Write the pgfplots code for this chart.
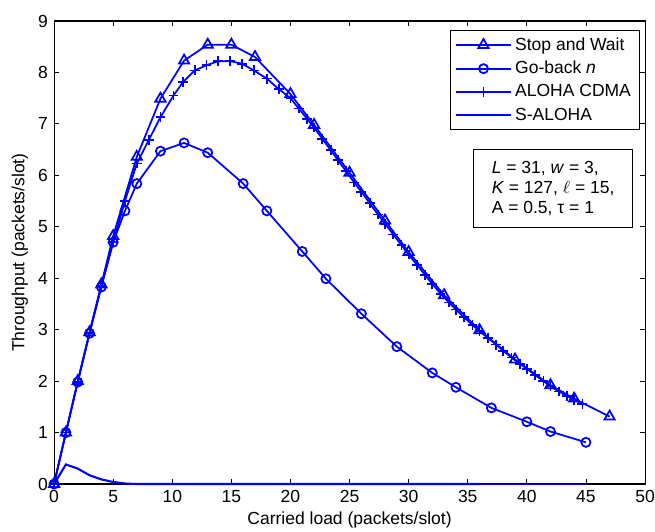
\documentclass[border=0pt]{standalone}
\usepackage{pgfplots}
\pgfplotsset{compat=1.18}
\usepackage{fontspec}
\setmainfont{Liberation Sans}

\begin{document}
\begin{tikzpicture}
\begin{axis}[
    width=337.7pt, height=264.6pt, scale only axis,
    xmin=0, xmax=50, ymin=0, ymax=9,
    xtick={0,5,...,50}, ytick={0,1,...,9},
    tick align=inside, major tick length=3pt,
    font=\fontsize{10}{12}\selectfont,
    /pgf/number format/assume math mode=true,
    axis line style={black, line width=0.6pt},
    tick style={black, line width=0.5pt},
    clip=false,
    xlabel={Carried load (packets/slot)},
    ylabel={Throughput (packets/slot)},
    xlabel style={at={(axis description cs:0.5,-0.078)}, anchor=center},
    ylabel style={at={(axis description cs:-0.058,0.5)}, anchor=center},
    legend cell align=left,
    legend style={at={(rel axis cs:0.9915,0.9806)}, anchor=north east,
        draw=black, font=\fontsize{10}{12}\selectfont,
        row sep=0.8pt, inner xsep=3pt, inner ysep=2pt},
    legend image code/.code={
        \draw[mark repeat=2,mark phase=2] plot coordinates {(0pt,0pt) (15.5pt,0pt) (31pt,0pt)};},
]
% parameter box
\node[draw=black, line width=0.5pt, anchor=north west, align=left,
      inner xsep=3pt, inner ysep=2pt, font=\fontsize{10}{11.4}\selectfont,
      minimum width=91pt, minimum height=44.6pt]
    at (rel axis cs:0.709,0.7235)
    {\textit{L} = 31, \textit{w} = 3,\\ \textit{K} = 127, $\ell$ = 15,\\ A = 0.5, τ = 1};
\coordinate (bl) at (rel axis cs:0,0);
\coordinate (tr) at (rel axis cs:1,1);

% Stop and Wait
\addplot[blue, line width=1pt, mark=triangle, mark size=3.4pt, mark options={solid}] coordinates {
    (0,0) (1,1.0) (2,2.0) (3,2.95) (4,3.88) (5,4.82) (7,6.36) (9,7.49)
    (11,8.23) (13,8.54) (15,8.54) (17,8.30) (20,7.58) (22,6.98) (25,6.05)
    (28,5.12) (30,4.51) (33,3.67) (36,2.99) (39,2.42) (42,1.92) (44,1.66) (47,1.31)
};
\addlegendentry{Stop and Wait}
% Go-back n
\addplot[blue, line width=1pt, mark=o, mark size=2.6pt, mark options={solid}] coordinates {
    (0,0) (1,1.0) (2,1.98) (3,2.93) (4,3.83) (5,4.7) (6,5.31) (7,5.84)
    (9,6.47) (11,6.63) (13,6.44) (16,5.84) (18,5.31) (21,4.52) (23,3.99)
    (26,3.31) (29,2.67) (32,2.16) (34,1.88) (37,1.48) (40,1.21) (42,1.02) (45,0.81)
};
\addlegendentry{Go-back \textit{n}}
% ALOHA CDMA
\addplot[blue, line width=1pt, mark=+, mark size=2.8pt, mark options={solid}] coordinates {
    (0,0) (1,1.0) (2,1.98) (3,2.93) (4,3.85) (5,4.7) (6,5.5) (7,6.23)
    (8,6.68) (9,7.13) (10.1,7.55) (10.9,7.81) (11.9,8.04) (12.9,8.14)
    (13.9,8.22) (14.9,8.22) (15.9,8.17) (16.9,8.04) (18,7.88) (19,7.68)
    (20,7.50) (20.7,7.30) (21.4,7.10) (22,6.93) (22.7,6.71) (23.4,6.49)
    (24,6.30) (24.7,6.08) (25.4,5.86) (26,5.68) (26.7,5.46) (27.4,5.24)
    (28,5.06) (28.7,4.85) (29.4,4.64) (30,4.46) (30.7,4.26) (31.4,4.06)
    (32,3.89) (32.7,3.70) (33.4,3.53) (34,3.39) (34.7,3.24) (35.4,3.09)
    (36,2.97) (36.7,2.84) (37.4,2.71) (38,2.59) (38.7,2.46) (39.4,2.34)
    (40,2.24) (40.7,2.12) (41.4,2.00) (42,1.90) (42.7,1.80) (43.4,1.71)
    (44,1.64) (44.7,1.56)
};
\addlegendentry{ALOHA CDMA}
% S-ALOHA
\addplot[draw=blue, line width=1.2pt, mark=none] coordinates {
    (0,0) (1,0.38) (2,0.30) (3,0.17) (4,0.09) (5,0.04) (6,0.01) (7,0) (36,0)
};
\addlegendentry{S-ALOHA}
\addplot[draw=blue, line width=0.5pt, forget plot] coordinates {(36,0) (45,0)};
\end{axis}
\pgfresetboundingbox
\path[use as bounding box] ([shift={(-30.9pt,-26.9pt)}]bl) rectangle ([shift={(5.7pt,12pt)}]tr);
\end{tikzpicture}
\end{document}
